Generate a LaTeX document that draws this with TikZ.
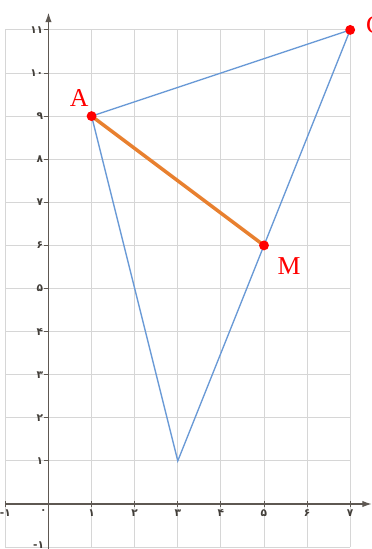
\documentclass[tikz,border=0pt]{standalone}
\usepackage{fontspec}
\usepackage{tikz}
\usetikzlibrary{positioning, arrows.meta}
\newfontfamily\digitfont{DejaVu Sans}
\newfontfamily\pointfont{Liberation Serif}
\definecolor{gridGrey}{HTML}{D6D6D6}
\definecolor{axisGrey}{HTML}{5E5852}
\definecolor{sideBlue}{HTML}{6A9AD6}
\definecolor{segOrange}{HTML}{E8802F}
\definecolor{pointRed}{HTML}{FF0000}

\begin{document}
\begin{tikzpicture}[x=1cm, y=1cm,
  gridline/.style={draw=gridGrey, line width=0.6pt},
  axis/.style={draw=axisGrey, line width=0.8pt, -{Latex[length=2.2mm, width=1.5mm]}},
  axistick/.style={draw=axisGrey, line width=0.6pt},
  ticklab/.style={font=\digitfont\bfseries\fontsize{7}{8}\selectfont, text=axisGrey!70!black, inner sep=1pt},
  side/.style={draw=sideBlue, line width=0.9pt},
  seg/.style={draw=segOrange, line width=2.3pt},
  dot/.style={circle, fill=pointRed, inner sep=0pt, minimum size=2.3mm},
  ptlabel/.style={font=\pointfont\fontsize{17}{20}\selectfont, text=pointRed, inner sep=0pt}]

\useasboundingbox (-1.125,-1.044) rectangle (7.506,11.694);

% grid
\foreach \x in {-1,...,7}
  \draw[gridline] (\x,-1) -- (\x,11);
\foreach \y in {-1,...,11}
  \draw[gridline] (-1,\y) -- (7,\y);

% axes
\coordinate (xstart) at (-1,0);
\coordinate (xend) at (7.5,0);
\coordinate (ystart) at (0,-1.05);
\coordinate (yend) at (0,11.4);
\draw[axis] (xstart) -- (xend);
\draw[axis] (ystart) -- (yend);

% ticks and numbers
\foreach \x/\d in {-1/-۱, 1/۱, 2/۲, 3/۳, 4/۴, 5/۵, 6/۶, 7/۷} {
  \draw[axistick] (\x,0.06) -- (\x,-0.06);
  \node[ticklab, below] (tx\x) at (\x,-0.08) {\d};
}
\node[ticklab, below left] (origin) at (0,-0.08) {۰};
\foreach \y/\d in {1/۱, 2/۲, 3/۳, 4/۴, 5/۵, 6/۶, 7/۷, 8/۸, 9/۹, 10/۱۰, 11/۱۱} {
  \draw[axistick] (-0.1,\y) -- (0,\y);
  \node[ticklab, left] (ty\y) at (-0.08,\y) {\d};
}
\node[ticklab, left] (tyneg) at (-0.06,-0.95) {-۱};

% triangle and segment
\coordinate (A) at (1,9);
\coordinate (B) at (3,1);
\coordinate (C) at (7,11);
\coordinate (M) at (5,6);
\draw[side] (A) -- (C) -- (B) -- cycle;
\draw[seg] (A) -- (M);

\node[dot] (dotA) at (A) {};
\node[dot] (dotC) at (C) {};
\node[dot] (dotM) at (M) {};

\node[ptlabel] (labA) at (0.71,9.42) {A};
\node[ptlabel] (labM) at (5.58,5.52) {M};
\node[ptlabel, anchor=west] (labC) at (7.36,11.1) {C};

\end{tikzpicture}
\end{document}
